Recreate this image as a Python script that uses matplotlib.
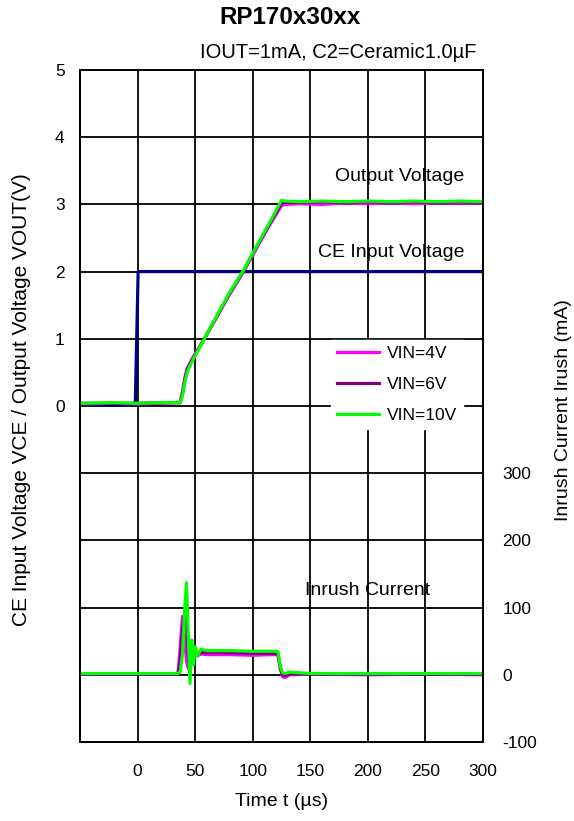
import numpy as np
import matplotlib
matplotlib.use('Agg')
import matplotlib.pyplot as plt

plt.rcParams['font.family'] = ['Liberation Sans', 'DejaVu Sans']
plt.rcParams['axes.unicode_minus'] = False

# Data
# CE input voltage (V)
t_ce = [-50, -2, 0.5, 300]
v_ce = [0.02, 0.02, 2.0, 2.0]

# Output voltage (V) for each VIN
t_out = [-50, -20, 0, 20, 37, 39, 41, 43, 46, 50, 58, 70, 80, 92, 105, 115,
         125, 128, 140, 160, 180, 200, 220, 240, 260, 280, 300]
v_out_4 = [0.03, 0.04, 0.03, 0.04, 0.05, 0.22, 0.42, 0.56, 0.66, 0.78, 1.0,
           1.36, 1.66, 2.0, 2.4, 2.7, 2.98, 3.0, 3.01, 3.0, 3.02, 3.01, 3.02,
           3.01, 3.02, 3.02, 3.02]
v_out_6 = [0.04, 0.04, 0.04, 0.05, 0.05, 0.18, 0.38, 0.53, 0.64, 0.76, 1.0,
           1.37, 1.68, 2.01, 2.42, 2.72, 3.02, 3.03, 3.03, 3.04, 3.03, 3.04,
           3.03, 3.04, 3.03, 3.04, 3.03]
v_out_10 = [0.04, 0.05, 0.04, 0.05, 0.05, 0.15, 0.35, 0.5, 0.62, 0.75, 1.0,
            1.38, 1.69, 2.02, 2.43, 2.74, 3.06, 3.05, 3.04, 3.05, 3.04, 3.05,
            3.04, 3.05, 3.04, 3.05, 3.04]

# Inrush current (mA) for each VIN
t_in = [-50, 0, 35, 37, 39, 41, 42.5, 44, 45.5, 47, 48.5, 50, 52, 55, 60, 80,
        100, 115, 120, 122, 124, 126, 128, 132, 150, 200, 250, 300]
i_4 = [1, 1, 1, 40, 87, 50, 20, 10, 5, 25, 22, 30, 28, 31, 30, 30, 29, 30, 30,
       29, 8, -3, -4, 0, 1, 0, 1, 0]
i_6 = [1, 1, 1, 20, 70, 90, 80, 30, 0, 35, 20, 33, 30, 33, 33, 33, 32, 32, 32,
       31, 10, 0, -1, 1, 1, 1, 1, 1]
i_10 = [2, 2, 2, 4, 30, 100, 137, 60, -13, 52, 15, 42, 28, 38, 36, 36, 35, 35,
        35, 34, 12, 3, 2, 4, 2, 2, 2, 2]

labels = ['VIN=4V', 'VIN=6V', 'VIN=10V']
colors = ['#ff00ff', '#800080', '#00ff00']

fig = plt.figure(figsize=(5.74, 8.21), dpi=100)
ax = fig.add_axes([80 / 574, 1 - 742 / 821, 403 / 574, 672 / 821])
ax2 = ax.twinx()

# Voltages
ax.plot(t_ce, v_ce, color='#000080', lw=2.3, zorder=3)
for v, c, lab in zip([v_out_4, v_out_6, v_out_10], colors, labels):
    ax.plot(t_out, v, color=c, lw=2.3, label=lab, zorder=4)

# Inrush current
for i, c in zip([i_4, i_6, i_10], colors):
    ax2.plot(t_in, i, color=c, lw=2.3)

ax.set_xlim(-50, 300)
ax.set_ylim(-5, 5)
ax2.set_ylim(-100, 900)

ax.set_xticks(np.arange(-50, 301, 50))
ax.set_xticklabels([''] + [str(x) for x in range(0, 301, 50)])
ax.set_yticks(np.arange(-5, 6, 1))
ax.set_yticklabels([''] * 5 + [str(y) for y in range(0, 6)])
ax2.set_yticks(np.arange(-100, 301, 100))

ax.tick_params(axis='both', length=0, labelsize=12.5)
ax.tick_params(axis='x', pad=16)
ax.tick_params(axis='y', pad=11)
ax2.tick_params(axis='y', length=0, labelsize=12.5, pad=14)

ax.grid(True, color='black', lw=1.3)
for sp in list(ax.spines.values()) + list(ax2.spines.values()):
    sp.set_linewidth(1.3)

ax.set_xlabel('Time t (µs)', fontsize=14, labelpad=10)
fig.text(22 / 574, 1 - 400 / 821,
         'CE Input Voltage VCE / Output Voltage VOUT(V)',
         rotation=90, ha='center', va='center', fontsize=15)
fig.text(563 / 574, 1 - 410 / 821, 'Inrush Current Irush (mA)',
         rotation=90, ha='center', va='center', fontsize=14)

fig.text(290 / 574, 1 - 18 / 821, 'RP170x30xx', ha='center', va='center',
         fontsize=17.5, fontweight='bold')
fig.text(477 / 574, 1 - 52 / 821, 'IOUT=1mA, C2=Ceramic1.0µF',
         ha='right', va='center', fontsize=14.5)

ax.text(228, 3.42, 'Output Voltage', ha='center', va='center', fontsize=14)
ax.text(220, 2.29, 'CE Input Voltage', ha='center', va='center', fontsize=14)
ax2.text(200, 126, 'Inrush Current', ha='center', va='center', fontsize=14)

handles, labs = ax.get_legend_handles_labels()
leg = ax2.legend(handles, labs, loc='upper left',
                 bbox_to_anchor=(331 / 574, 1 - 340 / 821),
                 bbox_transform=fig.transFigure, frameon=True, fancybox=False,
                 edgecolor='white', facecolor='white', framealpha=1,
                 fontsize=12.5, handlelength=2.4, handletextpad=0.45,
                 labelspacing=0.9, borderpad=0.35, borderaxespad=0)

fig.savefig('out.png', dpi=100)
